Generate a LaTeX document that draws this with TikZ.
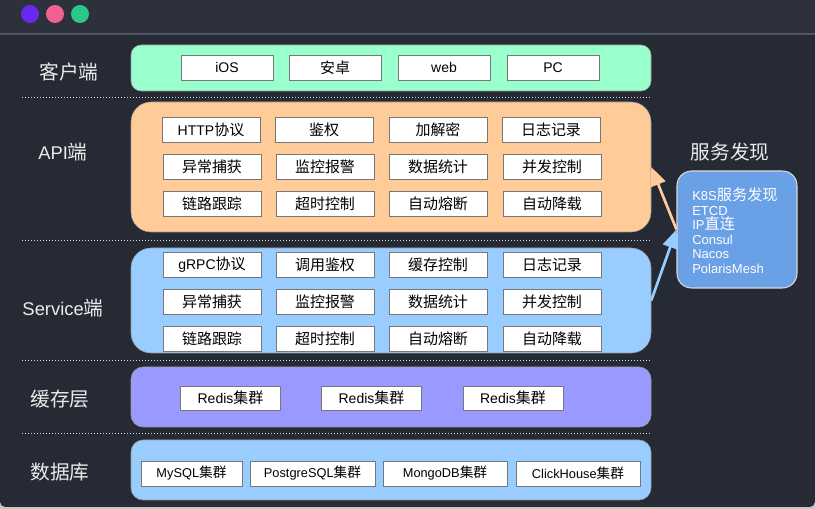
\documentclass[tikz,border=0pt]{standalone}
\usepackage{fontspec}
\setmainfont{Liberation Sans}
\newfontfamily\cjk[Scale=1.07]{Noto Sans CJK SC}
\newfontfamily\cjkbig[Scale=1.17]{Noto Sans CJK SC}
\newcommand\zh[1]{{\cjk #1}}
\newcommand\zhb[1]{\smash{\cjkbig #1}}
\usetikzlibrary{arrows.meta}
\definecolor{bgtop}{RGB}{45,49,60}
\definecolor{bgmain}{RGB}{38,42,53}
\definecolor{sepline}{RGB}{80,84,94}
\definecolor{cpurple}{RGB}{105,40,240}
\definecolor{cpink}{RGB}{240,98,146}
\definecolor{cgreen}{RGB}{43,199,138}
\definecolor{mint}{RGB}{153,255,204}
\definecolor{peach}{RGB}{255,204,153}
\definecolor{skyb}{RGB}{153,204,255}
\definecolor{lav}{RGB}{153,153,255}
\definecolor{discb}{RGB}{106,160,230}
\definecolor{itemborder}{RGB}{120,120,120}
\definecolor{labeltxt}{RGB}{235,235,235}
\tikzset{
  x=0.75pt, y=-0.75pt,
  layer/.style={draw=black!40, line width=0.4pt, minimum width=390pt, inner sep=0pt},
  item/.style={draw=itemborder, fill=white, line width=0.7pt, minimum width=73.5pt, minimum height=18.75pt, inner sep=0pt, font=\fontsize{10.5}{12}\selectfont},
  smallitem/.style={item, font=\fontsize{9.6}{11}\selectfont},
  layerlabel/.style={text=labeltxt, font=\fontsize{13.8}{16}\selectfont, inner sep=0pt},
  sepdots/.style={draw=white!85!black, line width=0.6pt, dash pattern=on 0.75pt off 1.5pt},
  arr/.style={line width=2pt, -{Triangle[length=14pt,width=11.5pt]}},
}
\begin{document}
\begin{tikzpicture}
\useasboundingbox (0,0) rectangle (815,509);
\fill[black!22] (0,0) rectangle (815,509);
\fill[bgmain, rounded corners=4pt] (0,-10) rectangle (815,507);
\fill[bgtop] (0,0) rectangle (815,34);
\draw[sepline, line width=0.8pt] (0,34) -- (815,34);
\fill[cpurple] (30,14) circle (9);
\fill[cpink] (55,14) circle (9);
\fill[cgreen] (80,14) circle (9);

% separators
\draw[sepdots] (22,97) -- (651,97);
\draw[sepdots] (22,240) -- (651,240);
\draw[sepdots] (22,360) -- (651,360);
\draw[sepdots] (22,433) -- (651,433);

% layer boxes
\node[layer, fill=mint, rounded corners=7.5pt, minimum height=34.5pt] (client) at (391,68) {};
\node[layer, fill=peach, rounded corners=15pt, minimum height=97.5pt] (api) at (391,167) {};
\node[layer, fill=skyb, rounded corners=15pt, minimum height=78.75pt] (svc) at (391,300.5) {};
\node[layer, fill=lav, rounded corners=9pt, minimum height=45pt] (cache) at (391,397) {};
\node[layer, fill=skyb, rounded corners=9pt, minimum height=45pt] (db) at (391,470) {};

% layer labels
\node[layerlabel] (lclient) at (69,72) {\zh{客户端}};
\node[layerlabel] (lapi) at (63,152) {API\zh{端}};
\node[layerlabel] (lsvc) at (63,308) {Service\zh{端}};
\node[layerlabel] (lcache) at (60,399) {\zh{缓存层}};
\node[layerlabel] (ldb) at (60,472) {\zh{数据库}};

% client items
\node[item, minimum width=69pt] (c1) at (227,67.5) {iOS};
\node[item, minimum width=69pt] (c2) at (335,67.5) {\zh{安卓}};
\node[item, minimum width=69pt] (c3) at (444,67.5) {web};
\node[item, minimum width=69pt] (c4) at (553,67.5) {PC};

% api items
\node[item] (a11) at (211,129.5) {HTTP\zh{协议}};
\node[item] (a12) at (324,129.5) {\zh{鉴权}};
\node[item] (a13) at (438,129.5) {\zh{加解密}};
\node[item] (a14) at (551,129.5) {\zh{日志记录}};
\node[item] (a21) at (212,166.5) {\zh{异常捕获}};
\node[item] (a22) at (325,166.5) {\zh{监控报警}};
\node[item] (a23) at (438,166.5) {\zh{数据统计}};
\node[item] (a24) at (552,166.5) {\zh{并发控制}};
\node[item] (a31) at (212,203.5) {\zh{链路跟踪}};
\node[item] (a32) at (325,203.5) {\zh{超时控制}};
\node[item] (a33) at (438,203.5) {\zh{自动熔断}};
\node[item] (a34) at (552,203.5) {\zh{自动降载}};

% service items
\node[item] (s11) at (212,264.5) {gRPC\zh{协议}};
\node[item] (s12) at (325,264.5) {\zh{调用鉴权}};
\node[item] (s13) at (438,264.5) {\zh{缓存控制}};
\node[item] (s14) at (552,264.5) {\zh{日志记录}};
\node[item] (s21) at (212,301.5) {\zh{异常捕获}};
\node[item] (s22) at (325,301.5) {\zh{监控报警}};
\node[item] (s23) at (438,301.5) {\zh{数据统计}};
\node[item] (s24) at (552,301.5) {\zh{并发控制}};
\node[item] (s31) at (212,338.5) {\zh{链路跟踪}};
\node[item] (s32) at (325,338.5) {\zh{超时控制}};
\node[item] (s33) at (438,338.5) {\zh{自动熔断}};
\node[item] (s34) at (552,338.5) {\zh{自动降载}};

% cache items
\node[item, minimum width=75pt, minimum height=18pt] (r1) at (230.5,398) {Redis\zh{集群}};
\node[item, minimum width=75pt, minimum height=18pt] (r2) at (371.5,398) {Redis\zh{集群}};
\node[item, minimum width=75pt, minimum height=18pt] (r3) at (513,398) {Redis\zh{集群}};

% db items
\node[smallitem, minimum width=75.75pt] (d1) at (191.5,473.5) {MySQL\zh{集群}};
\node[smallitem, minimum width=93.75pt] (d2) at (312.5,473.5) {PostgreSQL\zh{集群}};
\node[smallitem, minimum width=93pt] (d3) at (445,473.5) {MongoDB\zh{集群}};
\node[smallitem, minimum width=93pt] (d4) at (578,473.5) {ClickHouse\zh{集群}};

% service discovery
\node[text=labeltxt, font=\fontsize{13.8}{16}\selectfont, inner sep=0pt] (dtitle) at (730,152) {\zh{服务发现}};
\node[draw=white!85!black, line width=0.8pt, fill=discb, rounded corners=11pt, minimum width=90pt, minimum height=87.75pt, inner sep=0pt] (disc) at (737,229.5) {};
\node[anchor=north west, align=left, text=white, inner sep=0pt, font=\fontsize{9.75}{10.9}\selectfont] (dlist) at (692,191.5) {K8S\zhb{服务发现}\\ETCD\\IP\zhb{直连}\\Consul\\Nacos\\PolarisMesh};

% arrows
\draw[arr, peach] (disc.west) -- (api.east);
\draw[arr, skyb] (svc.east) -- (disc.west);
\end{tikzpicture}
\end{document}
